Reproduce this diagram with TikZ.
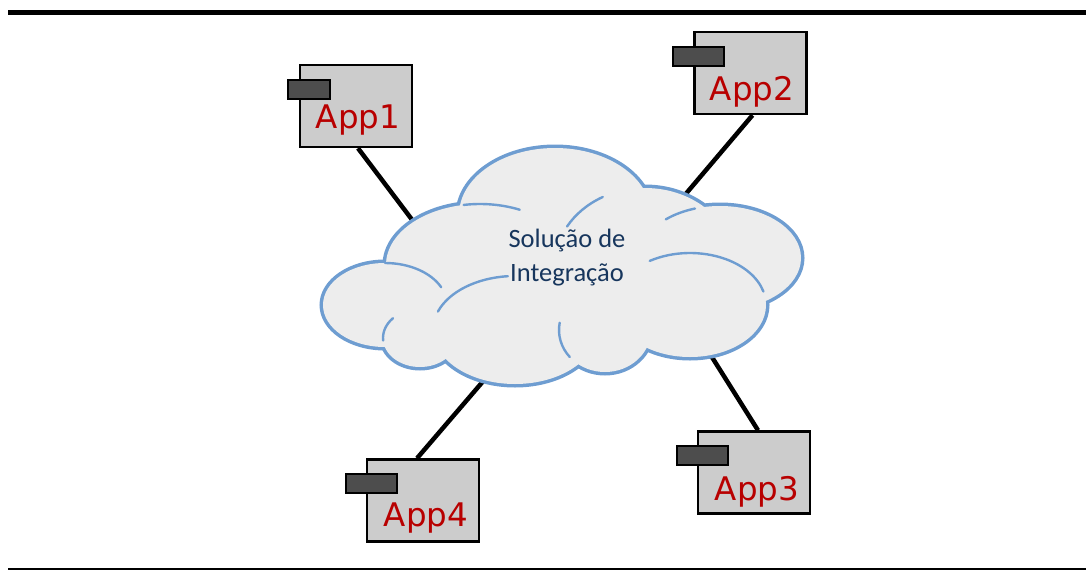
\documentclass[tikz,border=0pt]{standalone}
\usepackage{fontspec}
\newfontfamily\appfont{DejaVu Sans}
\newfontfamily\cloudfont{Carlito}
\usetikzlibrary{backgrounds}
\definecolor{cloudfill}{HTML}{EDEDED}
\definecolor{cloudline}{HTML}{6E9DD1}
\definecolor{appred}{HTML}{B80000}
\definecolor{navy}{HTML}{17365D}
\definecolor{boxgray}{HTML}{CCCCCC}
\definecolor{tabgray}{HTML}{4D4D4D}
\tikzset{
  appbox/.style={draw=black, line width=2.4pt, fill=boxgray, minimum width=112pt, minimum height=82pt, inner sep=0pt},
  apptab/.style={draw=black, line width=1.8pt, fill=tabgray, minimum height=19pt, inner sep=0pt},
  applabel/.style={anchor=base, inner sep=0pt, text=appred, font=\appfont\fontsize{32.5}{38}\selectfont},
  cloudtext/.style={align=center, inner sep=0pt, text=navy, font=\cloudfont\fontsize{26.5}{34}\selectfont},
  link/.style={draw=black, line width=4.5pt},
  rule/.style={draw=black},
  innerarc/.style={draw=cloudline, line width=2.4pt, line cap=round}
}
\newcommand{\cloudellipses}[1]{%
  \path[#1] (555,215) ellipse[x radius=96, y radius=67];
  \path[#1] (480,265) ellipse[x radius=94, y radius=61];
  \path[#1] (645,265) ellipse[x radius=90, y radius=77];
  \path[#1] (720,258) ellipse[x radius=81, y radius=52];
  \path[#1] (385,305) ellipse[x radius=62, y radius=42];
  \path[#1] (420,338) ellipse[x radius=37, y radius=29];
  \path[#1] (515,330) ellipse[x radius=82, y radius=54];
  \path[#1] (605,330) ellipse[x radius=46, y radius=42];
  \path[#1] (690,305) ellipse[x radius=76, y radius=52];
}
\begin{document}
\begin{tikzpicture}[x=1pt,y=-1pt]
\useasboundingbox (0,0) rectangle (1086,570);
% rules
\draw[rule, line width=5pt] (8,12.5) -- (1086,12.5);
\draw[rule, line width=2pt] (8,569) -- (1086,569);

% cloud
\cloudellipses{draw=cloudline, line width=7pt}
\cloudellipses{fill=cloudfill}
% inner arcs
\draw[innerarc] (480,265) ++(-100:94 and 61) arc[start angle=-100, end angle=-65, x radius=94, y radius=61];
\draw[innerarc] (645,265) ++(-150:90 and 77) arc[start angle=-150, end angle=-118, x radius=90, y radius=77];
\draw[innerarc] (720,258) ++(-132:81 and 52) arc[start angle=-132, end angle=-108, x radius=81, y radius=52];
\draw[innerarc] (690,305) ++(-122:76 and 52) arc[start angle=-122, end angle=-15, x radius=76, y radius=52];
\draw[innerarc] (515,330) ++(-160:82 and 54) arc[start angle=-160, end angle=-95, x radius=82, y radius=54];
\draw[innerarc] (605,330) ++(140:46 and 42) arc[start angle=140, end angle=190, x radius=46, y radius=42];
\draw[innerarc] (385,305) ++(-90:62 and 42) arc[start angle=-90, end angle=-25, x radius=62, y radius=42];
\draw[innerarc] (420,338) ++(-185:37 and 29) arc[start angle=-185, end angle=-137, x radius=37, y radius=29];

\node[cloudtext] (sol) at (567,258) {Solução de\\Integração};

% connector ends at the cloud
\coordinate (c1) at (413,221);
\coordinate (c2) at (684,196);
\coordinate (c3) at (710,354);
\coordinate (c4) at (485,379);

% applications
\node[appbox] (app1) at (356,106) {};
\node[apptab, minimum width=42pt] (tab1) at (309,89.5) {};
\node[applabel] (lab1) at (358,128) {App1};

\node[appbox] (app2) at (750.5,73) {};
\node[apptab, minimum width=51pt] (tab2) at (698.5,56.5) {};
\node[applabel] (lab2) at (752,100) {App2};

\node[appbox] (app3) at (754,472.5) {};
\node[apptab, minimum width=51pt] (tab3) at (702.5,455.5) {};
\node[applabel] (lab3) at (757,500) {App3};

\node[appbox] (app4) at (423,500.5) {};
\node[apptab, minimum width=51pt] (tab4) at (371.5,483.5) {};
\node[applabel] (lab4) at (426,526) {App4};

\begin{scope}[on background layer]
\draw[link] ([xshift=2pt]app1.south) -- (c1);
\draw[link] ([xshift=2pt]app2.south) -- (c2);
\draw[link] ([xshift=4pt]app3.north) -- (c3);
\draw[link] ([xshift=-6pt]app4.north) -- (c4);
\end{scope}
\end{tikzpicture}
\end{document}
